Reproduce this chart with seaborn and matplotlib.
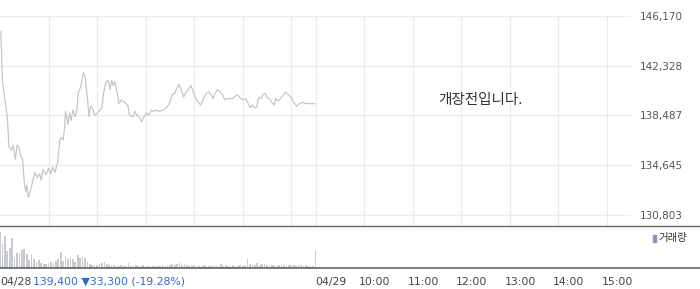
import matplotlib
matplotlib.use("Agg")
import matplotlib.pyplot as plt
import seaborn as sns
from matplotlib.patches import Rectangle
from matplotlib.lines import Line2D

# ---------------- data ----------------
# minutes since 04/28 09:00 (trading minutes, 390 per session)
price_min = [1, 3, 6, 9, 11, 14, 16, 19, 21, 23, 26, 28, 30, 32, 33, 35, 37, 40, 43, 46,
             49, 51, 53, 57, 60, 63, 65, 68, 71, 74, 76, 78, 80, 81, 84, 86, 88, 90, 93, 95,
             97, 100, 103, 105, 108, 110, 112, 114, 117, 121, 126, 128, 131, 134, 136, 138, 140, 142, 145, 147,
             150, 154, 158, 160, 164, 167, 169, 172, 175, 178, 181, 184, 187, 190, 193, 197, 202, 206, 210, 213,
             216, 218, 221, 224, 227, 230, 233, 236, 239, 242, 245, 248, 251, 255, 258, 261, 263, 265, 269, 272,
             275, 278, 282, 288, 293, 296, 300, 304, 306, 309, 312, 314, 317, 319, 321, 323, 325, 328, 330, 333,
             336, 339, 341, 344, 348, 353, 356, 360, 363, 367, 370, 374, 379, 385, 389]
price_val = [145000, 141200, 139700, 138400, 136100, 135800, 136200, 135100, 136200, 136100,
             135300, 135100, 133300, 132600, 133100, 132200, 132500, 133300, 134100, 133700,
             134000, 133500, 134300, 133900, 134400, 134000, 134500, 134100, 134800, 136600,
             136800, 136600, 137600, 138800, 137800, 138700, 138100, 138900, 138400, 138900,
             140300, 140700, 141800, 141500, 139900, 138400, 139200, 139100, 138500, 138700,
             139100, 140200, 141100, 141200, 140500, 141200, 140800, 141100, 140200, 139400,
             139700, 139500, 139300, 138500, 138400, 138800, 138500, 138400, 138000, 138400,
             138700, 138500, 138900, 138800, 138900, 138800, 138900, 139100, 139500, 140100,
             140200, 140500, 140900, 140500, 139900, 140300, 140500, 140800, 140300, 139800,
             139500, 139300, 139700, 140200, 140300, 140100, 139800, 140100, 140500, 140300,
             140100, 139700, 139800, 139800, 140100, 139900, 139700, 139800, 139500, 139100,
             139300, 139100, 139100, 139700, 139900, 139800, 140100, 140200, 139900, 139800,
             139500, 139300, 139800, 139600, 139900, 140300, 140100, 139900, 139500, 139200,
             139400, 139500, 139400, 139400, 139400]

vol_min = list(range(0, 390, 3)) + [390]
vol_val = [36, 24, 32, 17, 20, 30, 10, 15, 15, 18,
           19, 14, 8, 13, 9, 6, 8, 5, 4, 4,
           5, 6, 5, 7, 9, 16, 7, 12, 9, 11,
           9, 6, 13, 10, 11, 10, 6, 4, 3, 3,
           3, 4, 5, 6, 4, 3, 2, 3, 2, 2,
           3, 2, 2, 5, 2, 2, 3, 2, 2, 3,
           2, 2, 2, 2, 2, 2, 2, 3, 2, 3,
           3, 4, 3, 4, 5, 3, 4, 3, 2, 2,
           3, 2, 2, 2, 3, 2, 2, 2, 3, 2,
           2, 4, 2, 3, 2, 2, 3, 2, 2, 3,
           2, 3, 9, 4, 3, 3, 5, 3, 4, 4,
           3, 2, 3, 3, 2, 3, 3, 3, 2, 3,
           3, 3, 2, 3, 3, 2, 3, 2, 2, 2,
           17]

y_ticks = [130803, 134645, 138487, 142328, 146170]
grid_x = [60, 120, 180, 240, 300, 360, 390, 450, 510, 570, 630, 690, 750]
x_tick_pos = [0, 390, 450, 510, 570, 630, 690, 750]
x_tick_lab = ["04/28", "04/29", "10:00", "11:00", "12:00", "13:00", "14:00", "15:00"]
last_price = "139,400"
change = "\u25bc33,300"
pct = "(-19.28%)"
status = "개장전입니다."
legend_label = "거래량"

# ---------------- style ----------------
sns.set_style("white")
plt.rcParams["font.family"] = ["DejaVu Sans", "Noto Sans CJK KR"]

W, H = 700, 289
fig = plt.figure(figsize=(7, 2.89), dpi=100)


def fx(px):
    return px / W


def fy(py):
    return 1 - py / H


X_MAX = 780
AX_RIGHT = 631

# price panel
ax = fig.add_axes([0, fy(225.5), fx(AX_RIGHT), fy(16) - fy(225.5)])
step = (y_ticks[-1] - y_ticks[0]) / (len(y_ticks) - 1)
ax.set_xlim(0, X_MAX)
ax.set_ylim(y_ticks[0] - step * 10.5 / 49.75, y_ticks[-1])
sns.lineplot(x=price_min, y=price_val, ax=ax, color="#c3c6cc", linewidth=0.9)
ax.set_xticks(grid_x)
ax.set_xticklabels([])
ax.set_yticks(y_ticks)
ax.set_yticklabels([f"{v:,}" for v in y_ticks])
ax.yaxis.tick_right()
ax.tick_params(axis="y", length=0, pad=6.5, labelsize=7.5, labelcolor="#555555")
ax.tick_params(axis="x", length=0)
ax.grid(True, color="#ebebeb", linewidth=0.8)
ax.set_xlabel("")
ax.set_ylabel("")
for s in ax.spines.values():
    s.set_visible(False)

# volume panel
axv = fig.add_axes([0, fy(267.5), fx(AX_RIGHT), fy(226.5) - fy(267.5)])
sns.barplot(x=vol_min, y=vol_val, native_scale=True, ax=axv, color="#c8cbd0",
            width=0.7, errorbar=None, saturation=1, linewidth=0)
axv.set_xlim(0, X_MAX)
axv.set_ylim(0, max(vol_val) * 41 / 36)
axv.set_xticks(x_tick_pos)
axv.set_xticklabels([])
axv.set_yticks([])
axv.tick_params(axis="x", length=3.5, width=1, color="#555555", direction="out")
axv.set_xlabel("")
axv.set_ylabel("")
axv.grid(False)
for s in axv.spines.values():
    s.set_visible(False)

# full-width separator lines
fig.add_artist(Line2D([0, 1], [fy(225.5)] * 2, color="#666666", linewidth=1.0))
fig.add_artist(Line2D([0, 1], [fy(267.8)] * 2, color="#555555", linewidth=1.1))

# status text
fig.text(fx(480), fy(100), status, ha="center", va="center", fontsize=10.5,
         color="#333333", family=["Noto Sans CJK KR"])

# x labels
ty = fy(282)
fs = 7.8
for pos, lab in zip(x_tick_pos, x_tick_lab):
    px = pos * AX_RIGHT / X_MAX
    if lab.startswith("04/"):
        fig.text(fx(px), ty, lab, ha="left", va="center", fontsize=fs, color="#444444")
    else:
        fig.text(fx(px - 5), ty, lab, ha="left", va="center", fontsize=fs, color="#444444")
fig.text(fx(33), ty, f"{last_price} {change} {pct}", ha="left", va="center",
         fontsize=fs, color="#2f67d0")

# legend
fig.add_artist(Rectangle((fx(652.5), fy(241.5)), fx(3), 7 / H, color="#9a87c5",
                         transform=fig.transFigure))
fig.text(fx(658), fy(238.5), legend_label, ha="left", va="center", fontsize=7.5,
         color="#333333", family=["Noto Sans CJK KR"])

fig.savefig("out.png", dpi=100)
